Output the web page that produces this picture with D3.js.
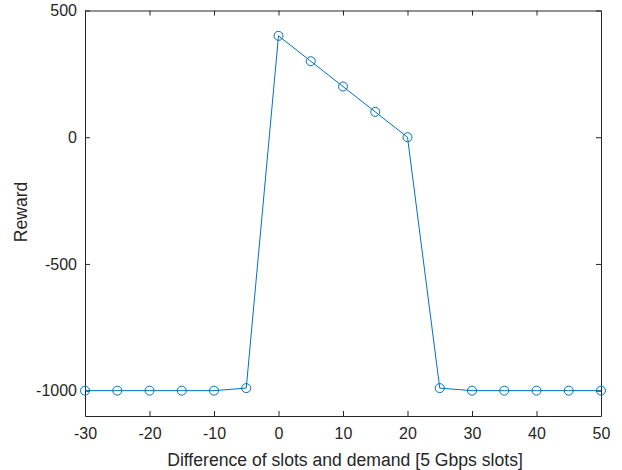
<!DOCTYPE html>
<html>
<head>
<meta charset="utf-8">
<script src="https://cdn.jsdelivr.net/npm/d3@7"></script>
<style>
  body { margin: 0; background: #fff; }
  text { font-family: "Liberation Sans", Arial, sans-serif; fill: #262626; }
</style>
</head>
<body>
<svg id="chart" width="622" height="470"></svg>
<script>
// slot difference vs reward
const slotDiff = [-30, -25, -20, -15, -10, -5, 0, 5, 10, 15, 20, 25, 30, 35, 40, 45, 50];
const reward = [-1000, -1000, -1000, -1000, -1000, -990, 400, 300, 200, 100, 0, -990, -1000, -1000, -1000, -1000, -1000];
const xTicks = [-30, -20, -10, 0, 10, 20, 30, 40, 50];
const yTicks = [-1000, -500, 0, 500];

const lineColor = '#0072BD';
const axisColor = '#262626';

const margin = { top: 10.5, right: 21, bottom: 54, left: 85 };
const width = 622 - margin.left - margin.right;
const height = 470 - margin.top - margin.bottom;

const svg = d3.select('#chart');
const g = svg.append('g').attr('transform', `translate(${margin.left},${margin.top})`);

const x = d3.scaleLinear().domain([-30, 50]).range([0, width]);
const y = d3.scaleLinear().domain([-1100, 500]).range([height, 0]);

// ticks point inward, box on all four sides
const tickLen = 5;
const fontSize = 16;
const labelSize = 17.6;
const fmt = d => String(d);

const axBottom = g.append('g').attr('transform', `translate(0,${height})`)
	.call(d3.axisBottom(x).tickValues(xTicks).tickSizeInner(-tickLen).tickSizeOuter(0).tickPadding(12).tickFormat(fmt));
const axLeft = g.append('g')
	.call(d3.axisLeft(y).tickValues(yTicks).tickSizeInner(-tickLen).tickSizeOuter(0).tickPadding(8).tickFormat(fmt));
const axTop = g.append('g')
	.call(d3.axisTop(x).tickValues(xTicks).tickSizeInner(-tickLen).tickSizeOuter(0).tickFormat(''));
const axRight = g.append('g').attr('transform', `translate(${width},0)`)
	.call(d3.axisRight(y).tickValues(yTicks).tickSizeInner(-tickLen).tickSizeOuter(0).tickFormat(''));

[axBottom, axLeft, axTop, axRight].forEach(a => {
	a.select('.domain').attr('stroke', axisColor).attr('stroke-width', 1);
	a.selectAll('.tick line').attr('stroke', axisColor);
	a.selectAll('.tick text')
		.style('font-size', fontSize + 'px')
		.style('font-family', '"Liberation Sans", Arial, sans-serif')
		.attr('fill', axisColor);
});

// series
const line = d3.line().x((d, i) => x(slotDiff[i])).y(d => y(d));
g.append('path')
	.datum(reward)
	.attr('d', line)
	.attr('fill', 'none')
	.attr('stroke', lineColor)
	.attr('stroke-width', 1);

g.selectAll('circle.pt')
	.data(reward)
	.enter()
	.append('circle')
	.attr('class', 'pt')
	.attr('cx', (d, i) => x(slotDiff[i]))
	.attr('cy', d => y(d))
	.attr('r', 4.5)
	.attr('fill', 'none')
	.attr('stroke', lineColor)
	.attr('stroke-width', 1);

// labels
svg.append('text')
	.attr('x', 345)
	.attr('y', 466)
	.attr('text-anchor', 'middle')
	.style('font-size', labelSize + 'px')
	.text('Difference of slots and demand [5 Gbps slots]');

svg.append('text')
	.attr('transform', `translate(27,212) rotate(-90)`)
	.attr('text-anchor', 'middle')
	.style('font-size', labelSize + 'px')
	.text('Reward');
</script>
</body>
</html>
